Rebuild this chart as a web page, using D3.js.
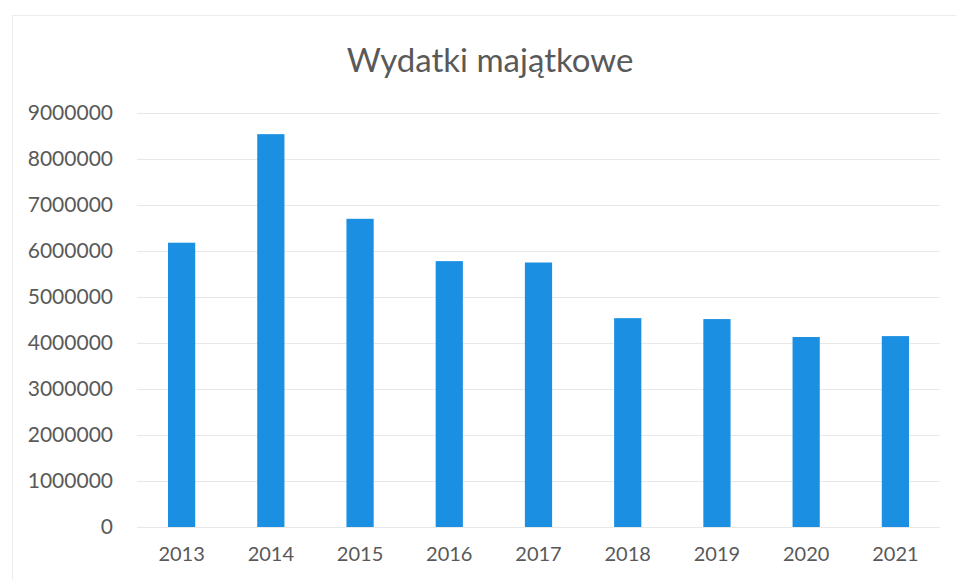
<!DOCTYPE html>
<html>
<head>
<meta charset="utf-8">
<script src="https://cdn.jsdelivr.net/npm/d3@7"></script>
<style>
  html, body { margin: 0; padding: 0; background: #ffffff; }
  svg { display: block; }
</style>
</head>
<body>
<svg id="chart" width="956" height="580"></svg>
<script>
const title = "Wydatki majątkowe";
const categories = ["2013", "2014", "2015", "2016", "2017", "2018", "2019", "2020", "2021"];
const values = [6180000, 8540000, 6700000, 5780000, 5750000, 4540000, 4520000, 4130000, 4150000];
const yTicks = [0, 1000000, 2000000, 3000000, 4000000, 5000000, 6000000, 7000000, 8000000, 9000000];

const W = 956, H = 580;
const margin = { left: 137, right: 16, top: 113, bottom: 53 };
const font = "Lato, 'Open Sans', 'Liberation Sans', sans-serif";
const textColor = "#595959";

const svg = d3.select("#chart");

// faint chart border (scan)
svg.append("rect")
  .attr("x", 12.5).attr("y", 15.5)
  .attr("width", W + 20).attr("height", H + 20)
  .attr("fill", "none").attr("stroke", "#ececec").attr("stroke-width", 1);

const x = d3.scaleBand()
  .domain(categories)
  .range([margin.left, W - margin.right])
  .paddingInner(0.695)
  .paddingOuter(0.3475);

const y = d3.scaleLinear()
  .domain([0, 9000000])
  .range([H - margin.bottom, margin.top]);

// gridlines
const yAxis = d3.axisLeft(y)
  .tickValues(yTicks)
  .tickSize(-(W - margin.right - margin.left))
  .tickPadding(24)
  .tickFormat(d3.format("d"));

const gy = svg.append("g")
  .attr("transform", `translate(${margin.left},0)`)
  .call(yAxis);
gy.select(".domain").remove();
gy.selectAll(".tick line").attr("stroke", "#e8e8e8").attr("stroke-width", 1);
gy.selectAll(".tick text")
  .attr("fill", textColor)
  .style("font-family", font)
  .style("font-size", "21px");

// bars
svg.append("g")
  .selectAll("rect")
  .data(values)
  .join("rect")
  .attr("x", (d, i) => x(categories[i]))
  .attr("y", d => y(d))
  .attr("width", x.bandwidth())
  .attr("height", d => y(0) - y(d))
  .attr("fill", "#1b8fe2");

// x axis
const xAxis = d3.axisBottom(x).tickSize(0).tickPadding(20);
const gx = svg.append("g")
  .attr("transform", `translate(0,${y(0)})`)
  .call(xAxis);
gx.select(".domain").remove();
gx.selectAll(".tick text")
  .attr("fill", textColor)
  .style("font-family", font)
  .style("font-size", "20px");

// title
svg.append("text")
  .attr("x", 490)
  .attr("y", 72)
  .attr("text-anchor", "middle")
  .attr("fill", textColor)
  .style("font-family", font)
  .style("font-size", "33px")
  .text(title);
</script>
</body>
</html>
